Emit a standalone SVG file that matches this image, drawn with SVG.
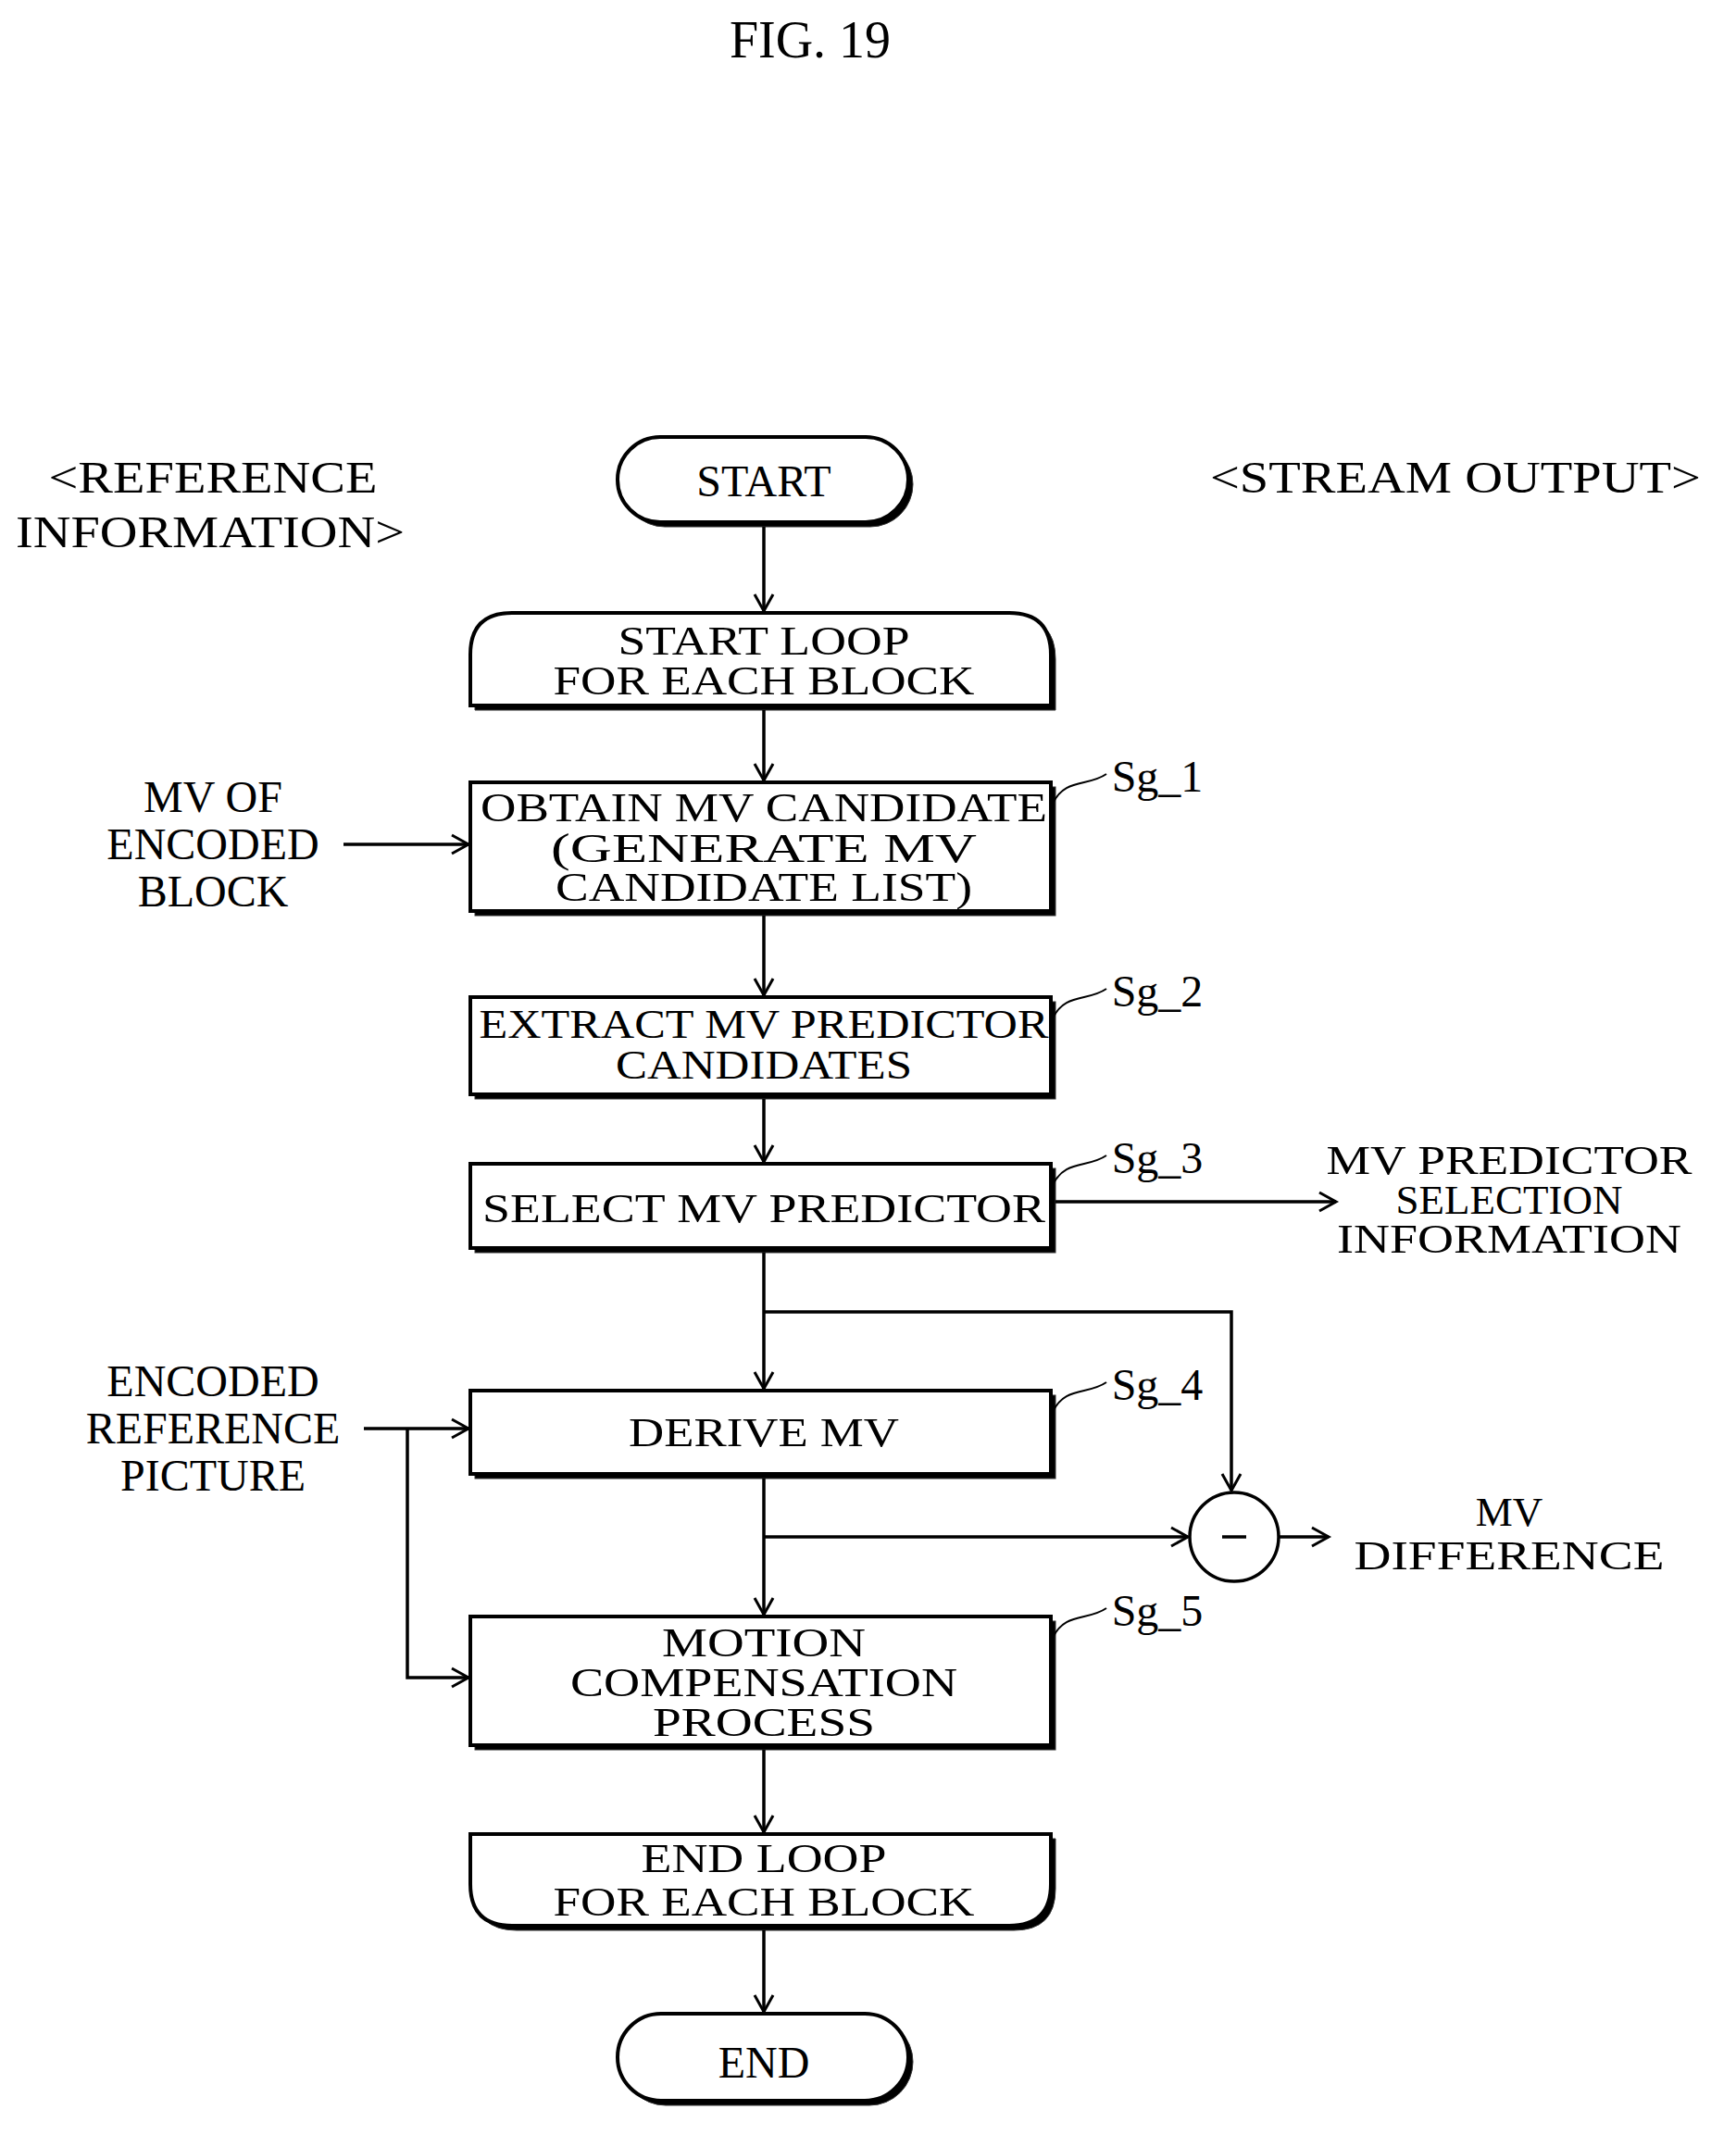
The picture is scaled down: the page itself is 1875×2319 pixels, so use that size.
<svg xmlns="http://www.w3.org/2000/svg" width="1875" height="2319" viewBox="0 0 1875 2319">
<style>
text{font-family:"Liberation Serif","DejaVu Serif",serif;font-size:48px;fill:#000;text-anchor:middle}
.m{font-size:45px}
.b{fill:#fff;stroke:#000;stroke-width:4}
.s{fill:#000;stroke:#333;stroke-width:1}
.c{fill:none;stroke:#000;stroke-width:3.5}
.q{fill:none;stroke:#000;stroke-width:2}
</style>
<defs><marker id="a" markerWidth="24" markerHeight="24" refX="20" refY="12" orient="auto" markerUnits="userSpaceOnUse"><path d="M2,2 L20,12 L2,22" fill="none" stroke="#000" stroke-width="3"/></marker></defs>
<rect width="1875" height="2319" fill="#fff"/>
<text x="875" y="62" style="font-size:56px">FIG. 19</text>
<g id="labels">
<text x="230" y="532" textLength="355" lengthAdjust="spacingAndGlyphs">&lt;REFERENCE</text>
<text x="227" y="591" textLength="420" lengthAdjust="spacingAndGlyphs">INFORMATION&gt;</text>
<text x="1572" y="532" textLength="530" lengthAdjust="spacingAndGlyphs">&lt;STREAM OUTPUT&gt;</text>
<text x="230" y="877">MV OF</text><text x="230" y="928">ENCODED</text><text x="230" y="979">BLOCK</text>
<text x="230" y="1508">ENCODED</text><text x="230" y="1559">REFERENCE</text><text x="230" y="1610">PICTURE</text>
<text class="m" x="1630" y="1268" textLength="395" lengthAdjust="spacingAndGlyphs">MV PREDICTOR</text><text class="m" x="1630" y="1311">SELECTION</text><text class="m" x="1630" y="1353" textLength="372" lengthAdjust="spacingAndGlyphs">INFORMATION</text>
<text class="m" x="1630" y="1648">MV</text><text class="m" x="1630" y="1695" textLength="335" lengthAdjust="spacingAndGlyphs">DIFFERENCE</text>
</g>
<g id="start"><rect class="s" x="672" y="477" width="314" height="92" rx="46"/><rect class="b" x="667" y="472" width="314" height="92" rx="46"/><text x="825" y="536">START</text></g>
<g id="loopstart"><path class="s" d="M513,767 V712 Q513,667 558,667 H1095 Q1140,667 1140,712 V767 Z"/><path class="b" d="M508,762 V707 Q508,662 553,662 H1090 Q1135,662 1135,707 V762 Z"/><text class="m" x="825" y="707" textLength="315" lengthAdjust="spacingAndGlyphs">START LOOP</text><text class="m" x="825" y="750" textLength="455" lengthAdjust="spacingAndGlyphs">FOR EACH BLOCK</text></g>
<g id="sg1"><rect class="s" x="513" y="850" width="627" height="139"/><rect class="b" x="508" y="845" width="627" height="139"/><text class="m" x="825" y="887" textLength="612" lengthAdjust="spacingAndGlyphs">OBTAIN MV CANDIDATE</text><text class="m" x="825" y="931" textLength="460" lengthAdjust="spacingAndGlyphs">(GENERATE MV</text><text class="m" x="825" y="973" textLength="450" lengthAdjust="spacingAndGlyphs">CANDIDATE LIST)</text><path class="q" d="M1137,868 C1150,840 1175,850 1195,836"/><text x="1250" y="855">Sg_1</text></g>
<g id="sg2"><rect class="s" x="513" y="1082" width="627" height="105"/><rect class="b" x="508" y="1077" width="627" height="105"/><text class="m" x="825" y="1121" textLength="615" lengthAdjust="spacingAndGlyphs">EXTRACT MV PREDICTOR</text><text class="m" x="825" y="1165" textLength="320" lengthAdjust="spacingAndGlyphs">CANDIDATES</text><path class="q" d="M1137,1100 C1150,1072 1175,1082 1195,1068"/><text x="1250" y="1087">Sg_2</text></g>
<g id="sg3"><rect class="s" x="513" y="1262" width="627" height="91"/><rect class="b" x="508" y="1257" width="627" height="91"/><text class="m" x="825" y="1320" textLength="608" lengthAdjust="spacingAndGlyphs">SELECT MV PREDICTOR</text><path class="q" d="M1137,1280 C1150,1252 1175,1262 1195,1248"/><text x="1250" y="1267">Sg_3</text></g>
<g id="sg4"><rect class="s" x="513" y="1507" width="627" height="90"/><rect class="b" x="508" y="1502" width="627" height="90"/><text class="m" x="825" y="1562" textLength="292" lengthAdjust="spacingAndGlyphs">DERIVE MV</text><path class="q" d="M1137,1525 C1150,1497 1175,1507 1195,1493"/><text x="1250" y="1512">Sg_4</text></g>
<g id="sg5"><rect class="s" x="513" y="1751" width="627" height="139"/><rect class="b" x="508" y="1746" width="627" height="139"/><text class="m" x="825" y="1789" textLength="220" lengthAdjust="spacingAndGlyphs">MOTION</text><text class="m" x="825" y="1832" textLength="418" lengthAdjust="spacingAndGlyphs">COMPENSATION</text><text class="m" x="825" y="1875" textLength="240" lengthAdjust="spacingAndGlyphs">PROCESS</text><path class="q" d="M1137,1769 C1150,1741 1175,1751 1195,1737"/><text x="1250" y="1756">Sg_5</text></g>
<g id="loopend"><path class="s" d="M513,1986 V2040 Q513,2085 558,2085 H1095 Q1140,2085 1140,2040 V1986 Z"/><path class="b" d="M508,1981 V2035 Q508,2080 553,2080 H1090 Q1135,2080 1135,2035 V1981 Z"/><text class="m" x="825" y="2022" textLength="265" lengthAdjust="spacingAndGlyphs">END LOOP</text><text class="m" x="825" y="2069" textLength="455" lengthAdjust="spacingAndGlyphs">FOR EACH BLOCK</text></g>
<g id="end"><rect class="s" x="672" y="2180" width="314" height="94" rx="47"/><rect class="b" x="667" y="2175" width="314" height="94" rx="47"/><text x="825" y="2244">END</text></g>
<g id="minus"><circle class="b" cx="1333" cy="1660" r="48" style="stroke-width:3.5"/><path d="M1320,1660 H1346" stroke="#000" stroke-width="3.5"/></g>
<g id="connectors" class="c">
<path class="c" d="M825,569 V660" marker-end="url(#a)"/>
<path class="c" d="M825,767 V843" marker-end="url(#a)"/>
<path class="c" d="M825,989 V1075" marker-end="url(#a)"/>
<path class="c" d="M825,1187 V1255" marker-end="url(#a)"/>
<path class="c" d="M825,1353 V1500" marker-end="url(#a)"/>
<path class="c" d="M825,1417 H1330 V1610" marker-end="url(#a)"/>
<path class="c" d="M825,1597 V1744" marker-end="url(#a)"/>
<path class="c" d="M825,1660 H1283" marker-end="url(#a)"/>
<path class="c" d="M825,1890 V1979" marker-end="url(#a)"/>
<path class="c" d="M825,2085 V2173" marker-end="url(#a)"/>
<path class="c" d="M1140,1298 H1443" marker-end="url(#a)"/>
<path class="c" d="M1381,1660 H1435" marker-end="url(#a)"/>
<path class="c" d="M371,912 H506" marker-end="url(#a)"/>
<path class="c" d="M393,1543 H506" marker-end="url(#a)"/>
<path class="c" d="M440,1543 V1812 H506" marker-end="url(#a)"/>
</g>
</svg>
